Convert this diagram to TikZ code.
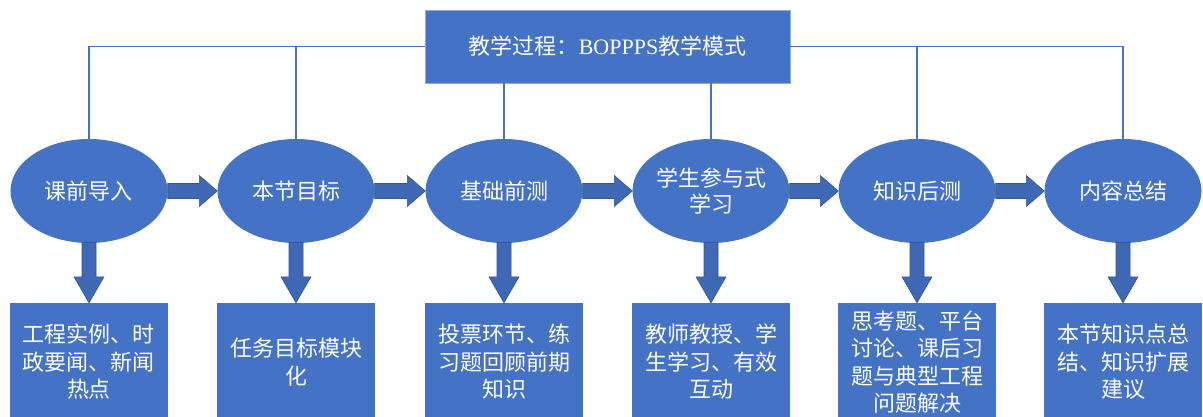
\documentclass[tikz,border=0pt]{standalone}
\usepackage{fontspec}
\setmainfont{Liberation Serif}
\newfontfamily\cjk{Noto Sans CJK SC}
\usetikzlibrary{shapes.geometric,calc}
\definecolor{obl}{HTML}{4472C4}
\definecolor{arrfill}{HTML}{3F68B5}
\definecolor{arrline}{HTML}{2F5597}
\tikzset{
  stage/.style={ellipse, fill=obl, minimum width=157pt, minimum height=104pt, inner sep=0pt,
    text=white, font=\cjk\fontsize{22}{26}\selectfont, align=center},
  detail/.style={rectangle, fill=obl, minimum width=158pt, minimum height=118pt, inner sep=0pt,
    text=white, font=\cjk\fontsize{22}{27.5}\selectfont, align=center},
  titlebox/.style={rectangle, fill=obl, draw=obl!60!white, line width=0.6pt, minimum width=365pt, minimum height=73pt,
    text=white, font=\fontsize{22}{26}\selectfont},
  link/.style={draw=obl, line width=1.5pt},
  fatarrow/.style={fill=arrfill, draw=arrline, line width=0.6pt, line join=miter}
}
\newcommand{\harrow}[2]{%
  \draw[fatarrow] ($(#1.east)+(0,-7.5)$) -- ($(#2.west)+(-18,-7.5)$) -- ($(#2.west)+(-18,-15.5)$)
    -- (#2.west) -- ($(#2.west)+(-18,15.5)$) -- ($(#2.west)+(-18,7.5)$) -- ($(#1.east)+(0,7.5)$) -- cycle;}
\newcommand{\varrow}[2]{%
  \draw[fatarrow] ($(#1.south)+(-7,-1)$) -- ($(#2.north)+(-7,-26)$) -- ($(#2.north)+(-15,-26)$)
    -- (#2.north) -- ($(#2.north)+(15,-26)$) -- ($(#2.north)+(7,-26)$) -- ($(#1.south)+(7,-1)$) -- cycle;}
\begin{document}
\begin{tikzpicture}[x=1pt,y=-1pt]
\useasboundingbox (0,0) rectangle (1203,417);
\clip (0,0) rectangle (1203,417);
\node[titlebox] (T) at (607.5,46.5) {{\cjk 教学过程：}BOPPPS{\cjk 教学模式}};
\node[stage] (e1) at (89,191) {课前导入};
\node[stage] (e2) at (296,191) {本节目标};
\node[stage] (e3) at (504,191) {基础前测};
\node[stage] (e4) at (711,191) {学生参与式\\学习};
\node[stage] (e5) at (917,191) {知识后测};
\node[stage] (e6) at (1123,191) {内容总结};
\node[detail] (d1) at (89,362) {工程实例、时\\政要闻、新闻\\热点};
\node[detail] (d2) at (296,362) {任务目标模块\\化};
\node[detail] (d3) at (504,362) {投票环节、练\\习题回顾前期\\知识};
\node[detail] (d4) at (711,362) {教师教授、学\\生学习、有效\\互动};
\node[detail] (d5) at (917,362) {思考题、平台\\讨论、课后习\\题与典型工程\\问题解决};
\node[detail] (d6) at (1123,362) {本节知识点总\\结、知识扩展\\建议};
\draw[link] (T.west) -| (e1.north);
\draw[link] (T.west) -| (e2.north);
\draw[link] (e3.north |- T.south) -- (e3.north);
\draw[link] (e4.north |- T.south) -- (e4.north);
\draw[link] (T.east) -| (e5.north);
\draw[link] (T.east) -| (e6.north);
\harrow{e1}{e2}
\harrow{e2}{e3}
\harrow{e3}{e4}
\harrow{e4}{e5}
\harrow{e5}{e6}
\varrow{e1}{d1}
\varrow{e2}{d2}
\varrow{e3}{d3}
\varrow{e4}{d4}
\varrow{e5}{d5}
\varrow{e6}{d6}
\end{tikzpicture}
\end{document}
